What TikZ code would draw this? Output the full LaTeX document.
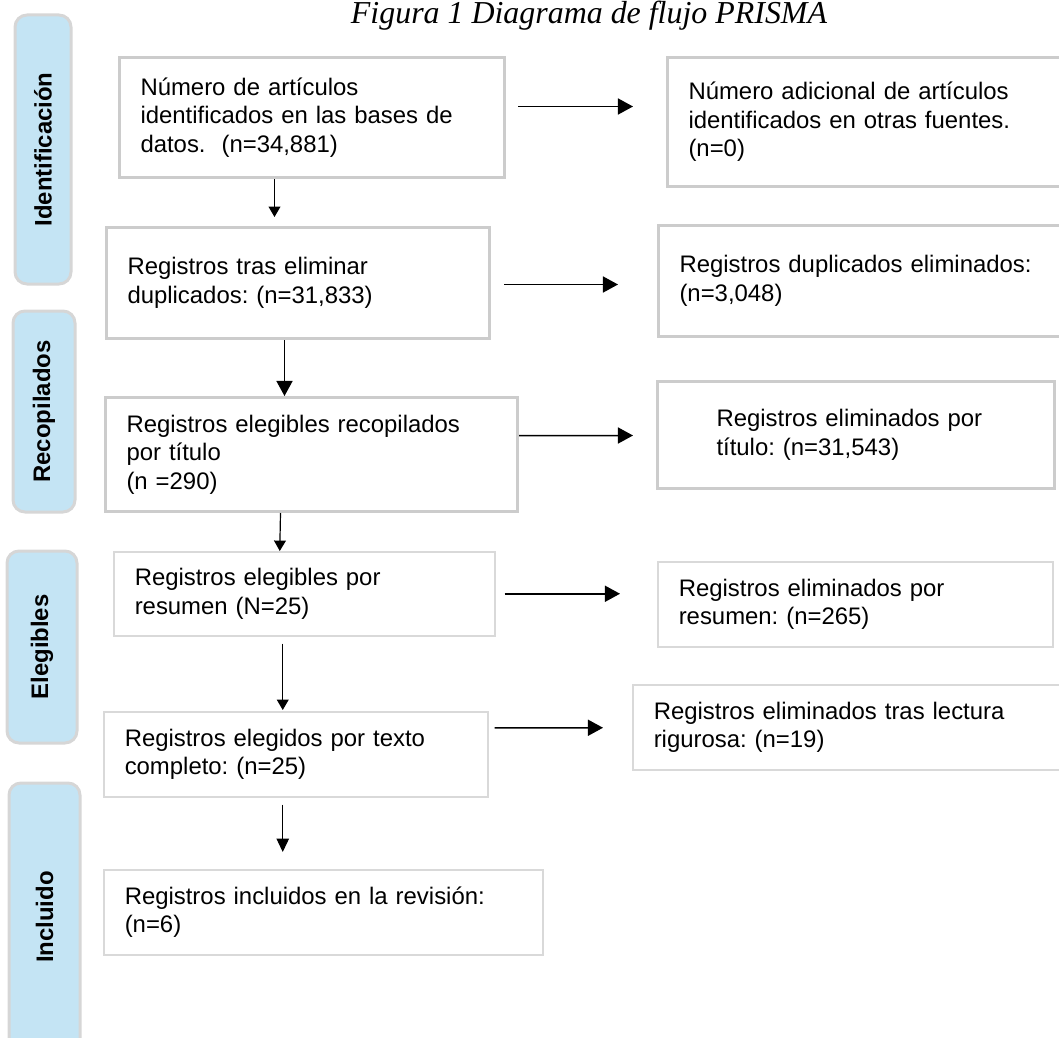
\documentclass[tikz,border=0pt]{standalone}
\usepackage{fontspec}
\setmainfont{Liberation Sans}
\newfontfamily\titlefont{Liberation Serif}
\usetikzlibrary{arrows.meta}
\frenchspacing

\newlength\pxlen
\setlength\pxlen{0.025cm}
\definecolor{stageblue}{HTML}{C4E4F4}
\definecolor{stageline}{HTML}{D6D6D6}
\definecolor{boxline}{HTML}{CCCCCC}
\definecolor{boxlight}{HTML}{D9D9D9}

\tikzset{
    box/.style={draw=boxline, line width=3\pxlen, anchor=north west, align=left, inner xsep=21\pxlen, font=\fontsize{17}{20.3}\selectfont},
    lightbox/.style={box, draw=boxlight, line width=1.5\pxlen},
    stage/.style={draw=stageline, line width=3\pxlen, fill=stageblue, rounded corners=12\pxlen, rotate=90, font=\bfseries\fontsize{17}{20}\selectfont},
    bigtip/.style={-{Triangle[length=10.7pt, width=11.4pt]}, line width=1.5\pxlen},
    midtip/.style={-{Triangle[length=9.6pt, width=8.9pt]}, line width=1.3\pxlen},
    smalltip/.style={-{Triangle[length=7.4pt, width=8.4pt]}, line width=1.2\pxlen}
}

\begin{document}
\begin{tikzpicture}[x=0.025cm, y=-0.025cm]
    \useasboundingbox (0, 0) rectangle (1059, 1038);
    \node (t) at(589, 24) [anchor=base, font=\titlefont\itshape\fontsize{22.7}{27}\selectfont]{Figura 1 Diagrama de flujo PRISMA};

    % stages
    \node (s1) at(43, 149.5) [stage, minimum width=269\pxlen, minimum height=56\pxlen]{Identificación};
    \node (s2) at(44, 411.5) [stage, minimum width=201\pxlen, minimum height=62\pxlen]{Recopilados};
    \node (s3) at(42, 647) [stage, minimum width=192\pxlen, minimum height=70\pxlen]{Elegibles};
    \node (s4) at(44.5, 917) [stage, minimum width=268\pxlen, minimum height=71\pxlen]{Incluido};

    % main column
    \node (n1) at(118, 56) [box, text width=343\pxlen, minimum height=120\pxlen]{Número de artículos\\identificados en las bases de\\datos.\ \ (n=34,881)};
    \node (n2) at(105, 226) [box, text width=341\pxlen, minimum height=111\pxlen]{Registros tras eliminar\\duplicados: (n=31,833)};
    \node (n3) at(104, 396) [box, text width=370\pxlen, minimum height=114\pxlen]{Registros elegibles recopilados\\por título\\(n =290)};
    \node (n4) at(113, 551) [lightbox, text width=339\pxlen, minimum height=84\pxlen]{Registros elegibles por\\resumen (N=25)};
    \node (n5) at(103, 711) [lightbox, text width=342\pxlen, minimum height=85\pxlen]{Registros elegidos por texto\\completo: (n=25)};
    \node (n6) at(103, 869) [lightbox, text width=397\pxlen, minimum height=85\pxlen]{Registros incluidos en la revisión:\\(n=6)};

    % side column
    \node (r1) at(666, 56) [box, text width=367\pxlen, minimum height=129\pxlen]{Número adicional de artículos\\identificados en otras fuentes.\\(n=0)};
    \node (r2) at(657, 224) [box, text width=376\pxlen, minimum height=111\pxlen]{Registros duplicados eliminados:\\(n=3,048)};
    \node (r3) at(656, 380) [box, inner xsep=59\pxlen, text width=279\pxlen, minimum height=107\pxlen]{Registros eliminados por\\título: (n=31,543)};
    \node (r4) at(657, 561) [lightbox, text width=353\pxlen, minimum height=85\pxlen]{Registros eliminados por\\resumen: (n=265)};
    \node (r5) at(632, 684) [lightbox, text width=401\pxlen, minimum height=85\pxlen]{Registros eliminados tras lectura\\rigurosa: (n=19)};

    \draw[smalltip] ([shift={(-37.5, 0)}]n1.south)--([shift={(-23.5, -9)}]n2.north);
    \draw[bigtip] ([shift={(-13.5, 0)}]n2.south)--([shift={(-27, 0)}]n3.north);
    \draw[smalltip] ([shift={(-31, 0)}]n3.south)--([shift={(-24.5, 0)}]n4.north);
    \draw[smalltip] ([shift={(-21.5, 7)}]n4.south)--([shift={(-13, -1)}]n5.north);
    \draw[midtip] ([shift={(-13, 7)}]n5.south)--([shift={(-40.5, -17)}]n6.north);

    \draw[bigtip] ([shift={(12, -11)}]n1.east)--([shift={(-33, -15.5)}]r1.west);
    \draw[bigtip] ([shift={(13, 1.5)}]n2.east)--([shift={(-39, 3.5)}]r2.west);
    \draw[bigtip] ([shift={(0, -19)}]n3.east)--([shift={(-23, 0.5)}]r3.west);
    \draw[bigtip] ([shift={(9, 0)}]n4.east)--([shift={(-37, -10.5)}]r4.west);
    \draw[bigtip] ([shift={(6, -26.5)}]n5.east)--([shift={(-29, 0.5)}]r5.west);
\end{tikzpicture}
\end{document}
